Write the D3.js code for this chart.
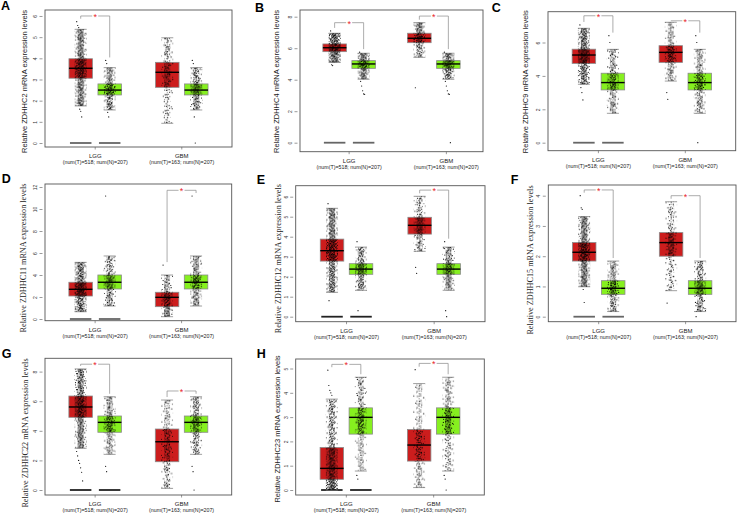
<!DOCTYPE html>
<html><head><meta charset="utf-8">
<script src="https://cdn.jsdelivr.net/npm/d3@7"></script>
<style>body{margin:0;background:#fff}svg{display:block}</style>
</head><body><svg id="c" width="738" height="513"></svg>
<script>
// ---------------- DATA ----------------
const groups = ["LGG", "GBM"];
const groupSubs = ["(num(T)=518; num(N)=207)", "(num(T)=163; num(N)=207)"];
const kinds = ["T", "N"];
const sampleN = [518, 207, 163, 207]; // LGG-T, LGG-N, GBM-T, GBM-N
const panelLetters = ["A", "B", "C", "D", "E", "F", "G", "H"];
const genes = ["ZDHHC2", "ZDHHC4", "ZDHHC9", "ZDHHC11", "ZDHHC12", "ZDHHC15", "ZDHHC22", "ZDHHC23"];
const yTicks = [
  [0, 1, 2, 3, 4, 5, 6], [0, 2, 4, 6, 8], [0, 2, 4, 6], [0, 2, 4, 6, 8, 10, 12],
  [0, 1, 2, 3, 4, 5, 6], [0, 1, 2, 3, 4], [0, 2, 4, 6, 8], [0, 1, 2, 3, 4, 5]
];
// [low whisker, q1, median, q3, high whisker] for LGG-T, LGG-N, GBM-T, GBM-N
const boxA = [[1.75, 3.06, 3.53, 3.98, 5.37], [1.56, 2.27, 2.5, 2.79, 3.56], [0.93, 2.63, 3.34, 3.81, 4.97], [1.56, 2.27, 2.5, 2.79, 3.56]];
const boxB = [[5.1, 5.78, 6.03, 6.27, 6.95], [4.03, 4.72, 5.0, 5.21, 5.68], [5.42, 6.35, 6.63, 6.95, 7.62], [4.03, 4.72, 5.0, 5.21, 5.68]];
const boxC = [[3.5, 4.75, 5.25, 5.6, 6.85], [1.76, 3.16, 3.6, 4.16, 5.59], [3.69, 4.81, 5.41, 5.81, 7.21], [1.76, 3.16, 3.6, 4.16, 5.59]];
const boxD = [[0.66, 2.09, 2.7, 3.34, 5.15], [1.18, 2.73, 3.34, 4.0, 5.73], [0.21, 1.12, 1.97, 2.43, 4.0], [1.18, 2.73, 3.34, 4.0, 5.73]];
const boxE = [[1.22, 2.78, 3.3, 3.88, 5.42], [1.32, 2.12, 2.38, 2.65, 3.48], [3.27, 4.13, 4.57, 4.97, 6.02], [1.32, 2.12, 2.38, 2.65, 3.48]];
const boxF = [[0.99, 1.84, 2.13, 2.45, 3.31], [0.17, 0.74, 0.94, 1.19, 1.84], [0.86, 2.0, 2.45, 2.78, 3.8], [0.17, 0.74, 0.94, 1.19, 1.84]];
const boxG = [[2.82, 4.91, 5.61, 6.35, 8.18], [2.41, 3.9, 4.57, 5.0, 6.3], [0.11, 1.91, 3.26, 4.12, 6.08], [2.41, 3.9, 4.57, 5.0, 6.3]];
const boxH = [[0, 0.44, 0.89, 1.75, 3.74], [0.78, 2.3, 2.99, 3.38, 4.64], [0.1, 1.19, 1.85, 2.49, 4.38], [0.78, 2.3, 2.99, 3.38, 4.64]];
// points outside whiskers
const outA = [[5.73, 5.55, 5.45, 1.6, 1.5, 1.23], [3.9, 3.75, 1.45, 1.23], [], [3.9, 3.75, 1.23, 0]];
const outB = [[7.1, 4.95, 4.9], [5.75, 3.9, 3.6, 3.3, 3.1, 3.07], [3.49], [5.75, 3.9, 3.6, 3.3, 3.1, 3.07, 0]];
const outC = [[7.05, 3.3, 3.0, 2.56], [6.41, 6.0], [3.0, 2.6], [6.41, 6.0, 0]];
const outD = [[], [11.18], [4.9], [11.18]];
const outE = [[5.65, 0.8], [3.75, 0.3], [2.47, 2.17], [3.75, 0.3, 0]];
const outF = [[4.0, 3.6, 3.55, 0.9, 0.47], [], [0.45], [0]];
const outG = [[2.6, 2.3, 2.0, 1.8, 1.5, 1.2, 0.61], [1.6, 1.24], [], [1.6, 1.24, 0]];
const outH = [[4.93, 4.3, 4.1, 4.0, 3.9], [0.6, 0.45], [4.95], [0.6, 0.45, 0]];
// significance bracket level per group (null = not significant)
const sigA = [6.0, null], sigB = [7.62, 8.04], sigC = [7.6, 7.3], sigD = [null, 11.7];
const sigE = [null, 6.33], sigF = [4.19, 4.0], sigG = [8.5, 6.69], sigH = [5.17, 5.21];

const boxes = [boxA, boxB, boxC, boxD, boxE, boxF, boxG, boxH];
const outs = [outA, outB, outC, outD, outE, outF, outG, outH];
const sigs = [sigA, sigB, sigC, sigD, sigE, sigF, sigG, sigH];

// ---------------- LAYOUT ----------------
const layout = [
  {x0: 45, y0: 10, x1: 232, y1: 147, zero: 143, k: 21.17, tx: 24, ty: 81.5, serif: false, L: [1, 10], lshift: [0, 0]},
  {x0: 300, y0: 10, x1: 483, y1: 151.7, zero: 142.7, k: 15.75, tx: 276.7, ty: 81.5, serif: false, L: [255, 11.7], lshift: [0, 12.5]},
  {x0: 548, y0: 11.7, x1: 735.7, y1: 150.7, zero: 142.7, k: 16.7, tx: 525, ty: 81.7, serif: false, L: [491.7, 11.7], lshift: [0, 0]},
  {x0: 45, y0: 184, x1: 231.7, y1: 320.7, zero: 319, k: 11, tx: 23.3, ty: 258, serif: true, L: [1.7, 183], lshift: [0, 0]},
  {x0: 295.7, y0: 185.7, x1: 485, y1: 321.7, zero: 316.7, k: 20, tx: 278.3, ty: 258.7, serif: true, L: [256.7, 184], lshift: [0, 0]},
  {x0: 548.3, y0: 185, x1: 736, y1: 321.7, zero: 316.7, k: 30.25, tx: 530, ty: 260, serif: true, L: [510.7, 184], lshift: [0, 0]},
  {x0: 45, y0: 358.3, x1: 231.7, y1: 495, zero: 490, k: 14.8, tx: 25, ty: 433, serif: true, L: [1.7, 357.7], lshift: [0, 0]},
  {x0: 295.7, y0: 359, x1: 484.3, y1: 495, zero: 490, k: 24.3, tx: 277.3, ty: 429, serif: false, L: [256.7, 357.7], lshift: [0, 0]}
];
const SANS = "'Liberation Sans', Arial, sans-serif";
const SERIF = "'Liberation Serif', 'Times New Roman', serif";
const boxW = 23.5, capW = 12;
const fillT = "#cc1d1d", fillN = "#86f01f";

const svg = d3.select("#c");
const defs = svg.append("defs");

function halton(i, b) { let f = 1, r = 0; while (i > 0) { f /= b; r += f * (i % b); i = Math.floor(i / b); } return r; }
let patId = 0;
// dotted texture standing in for the jittered sample cloud
function cloud(density) {
  const T = 16;
  const n = Math.min(Math.round(density * T * T), Math.round(T * T * 0.45));
  const id = "pt" + (patId++);
  const p = defs.append("pattern").attr("id", id).attr("patternUnits", "userSpaceOnUse")
    .attr("width", T).attr("height", T).attr("x", (patId * 3.7) % T).attr("y", (patId * 5.3) % T);
  const s = patId * 29 + 7;
  for (let i = 0; i < n; i++) {
    p.append("circle").attr("cx", halton(i + s, 2) * T).attr("cy", halton(i + s, 3) * T)
      .attr("r", 0.62).attr("fill", "#000").attr("fill-opacity", 0.9);
  }
  return "url(#" + id + ")";
}

layout.forEach((Lo, pi) => {
  const g = svg.append("g");
  const y = d3.scaleLinear().domain([(Lo.zero - Lo.y1) / Lo.k, (Lo.zero - Lo.y0) / Lo.k]).range([Lo.y1, Lo.y0]);
  const xg = d3.scalePoint().domain(groups).range([Lo.x0, Lo.x1]).padding(0.58);
  const xs = d3.scalePoint().domain(kinds).range([-14.5, 14.5]);

  g.append("text").attr("x", Lo.L[0]).attr("y", Lo.L[1]).text(panelLetters[pi])
    .attr("font-family", SANS).attr("font-weight", "bold").attr("font-size", 12.5).attr("fill", "#000");

  g.append("text").attr("transform", `translate(${Lo.tx + 2.5},${Lo.ty}) rotate(-90)`)
    .attr("text-anchor", "middle").attr("font-family", Lo.serif ? SERIF : SANS)
    .attr("font-size", Lo.serif ? 8.2 : 7.5).attr("fill", "#222")
    .text(`Relative ${genes[pi]} mRNA expression levels`);

  const ax = g.append("g").attr("transform", `translate(${Lo.x0 - 2.5},0)`)
    .call(d3.axisLeft(y).tickValues(yTicks[pi]).tickSize(3).tickFormat(d3.format("d")));
  ax.select(".domain").remove();
  ax.selectAll("line").attr("stroke", "#555").attr("stroke-width", 0.6);
  ax.selectAll("text").attr("x", null).attr("dy", null)
    .attr("transform", "translate(-5.5,0) rotate(-90)").attr("text-anchor", "middle")
    .attr("font-family", SANS).attr("font-size", 5).attr("fill", "#333");

  groups.forEach((gr, gi) => {
    const lx = xg(gr) + Lo.lshift[gi];
    g.append("line").attr("x1", lx).attr("x2", lx).attr("y1", Lo.y1).attr("y2", Lo.y1 + 2.5)
      .attr("stroke", "#555").attr("stroke-width", 0.6);
    g.append("text").attr("x", lx).attr("y", Lo.y1 + 11).attr("text-anchor", "middle")
      .attr("font-family", SANS).attr("font-size", 6).attr("fill", "#222").text(gr);
    g.append("text").attr("x", lx).attr("y", Lo.y1 + 17).attr("text-anchor", "middle")
      .attr("font-family", SANS).attr("font-size", 5.3).attr("fill", "#222").text(groupSubs[gi]);
  });

  const stats = boxes[pi], outl = outs[pi];
  stats.forEach((s, bi) => {
    const gr = groups[Math.floor(bi / 2)], kd = kinds[bi % 2];
    const cx = xg(gr) + xs(kd);
    const [lo, q1, md, q3, hi] = s;
    const n = sampleN[bi];
    if (gr === "LGG") {
      g.append("line").attr("x1", cx - boxW / 2 + 1).attr("x2", cx + boxW / 2 - 1)
        .attr("y1", y(0)).attr("y2", y(0)).attr("stroke", pi >= 4 && pi !== 5 ? "#222" : "#666").attr("stroke-width", 1.8);
    }
    [[lo, q1], [q3, hi]].forEach(([a, b]) => {
      g.append("line").attr("x1", cx).attr("x2", cx).attr("y1", y(a)).attr("y2", y(b))
        .attr("stroke", "#666").attr("stroke-width", 0.6).attr("stroke-dasharray", "1.5,1");
    });
    [lo, hi].forEach(v => {
      g.append("line").attr("x1", cx - capW / 2).attr("x2", cx + capW / 2).attr("y1", y(v)).attr("y2", y(v))
        .attr("stroke", "#888").attr("stroke-width", 0.8);
    });
    g.append("rect").attr("x", cx - boxW / 2).attr("width", boxW).attr("y", y(q3)).attr("height", y(q1) - y(q3))
      .attr("fill", kd === "T" ? fillT : fillN).attr("stroke", "#8a8a8a").attr("stroke-width", 0.8);
    // cloud: dense narrow core + sparse wider halo, per segment share of samples
    [[lo, q1, 0.25], [q1, q3, 0.5], [q3, hi, 0.25]].forEach(([a, b, f]) => {
      const h = Math.max(y(a) - y(b), 0.5);
      [[6, 0.65], [12, 0.35]].forEach(([w, share]) => {
        const dens = n * f * share / (h * w);
        g.append("rect").attr("x", cx - w / 2).attr("width", w).attr("y", y(b)).attr("height", h)
          .attr("fill", cloud(dens));
      });
    });
    outl[bi].forEach((v, oi) => {
      g.append("circle").attr("cx", cx + ((oi * 37) % 9) - 4).attr("cy", y(v)).attr("r", 0.6).attr("fill", "#000");
    });
    g.append("line").attr("x1", cx - boxW / 2).attr("x2", cx + boxW / 2).attr("y1", y(md)).attr("y2", y(md))
      .attr("stroke", "#000").attr("stroke-width", 1.4);
  });

  sigs[pi].forEach((lvl, gi) => {
    if (lvl === null) return;
    const gr = groups[gi];
    const cT = xg(gr) + xs("T"), cN = xg(gr) + xs("N");
    const maxT = d3.max([stats[gi * 2][4], ...outl[gi * 2]]);
    const maxN = d3.max([stats[gi * 2 + 1][4], ...outl[gi * 2 + 1].filter(v => v > 0)]);
    const yb = y(lvl);
    const path = d3.path();
    path.moveTo(cT, Math.max(y(maxT) - 3, yb)); path.lineTo(cT, yb); path.lineTo(cN, yb); path.lineTo(cN, Math.max(y(maxN) - 3, yb));
    g.append("path").attr("d", path.toString()).attr("fill", "none").attr("stroke", "#888").attr("stroke-width", 0.7);
    g.append("rect").attr("x", (cT + cN) / 2 - 3).attr("y", yb - 2).attr("width", 6).attr("height", 4).attr("fill", "#fff");
    g.append("text").attr("x", (cT + cN) / 2).attr("y", yb + 4).attr("text-anchor", "middle")
      .attr("font-family", SANS).attr("font-size", 9).attr("fill", "#e8242a").text("*");
  });

  g.append("rect").attr("x", Lo.x0).attr("y", Lo.y0).attr("width", Lo.x1 - Lo.x0).attr("height", Lo.y1 - Lo.y0)
    .attr("fill", "none").attr("stroke", "#555").attr("stroke-width", 0.9);
});
</script></body></html>
